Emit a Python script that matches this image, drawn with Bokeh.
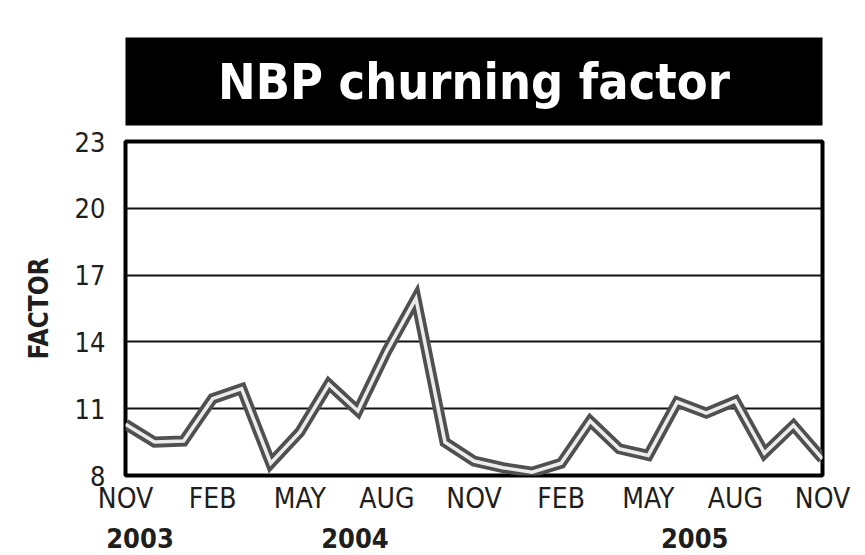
from bokeh.plotting import figure
from bokeh.layouts import column
from bokeh.models import FixedTicker, LinearAxis, Range1d
from bokeh.core.properties import value
from bokeh.embed import file_html
from bokeh.resources import INLINE

# ---- data ----
title_text = "NBP churning factor"
y_axis_title = "FACTOR"
months = ["NOV", "DEC", "JAN", "FEB", "MAR", "APR", "MAY", "JUN", "JUL", "AUG", "SEP", "OCT",
          "NOV", "DEC", "JAN", "FEB", "MAR", "APR", "MAY", "JUN", "JUL", "AUG", "SEP", "OCT", "NOV"]
factor = [10.3, 9.5, 9.55, 11.45, 11.9, 8.55, 9.95, 12.1, 10.9, 13.6, 15.95, 9.5,
          8.65, 8.35, 8.15, 8.55, 10.45, 9.2, 8.9, 11.3, 10.8, 11.35, 9.0, 10.25, 8.75]
years = ["2003", "2004", "2005"]
y_ticks = [8, 11, 14, 17, 20, 23]

FONT = "DejaVu Sans Condensed"
TXT = "#1e1e1e"
idx = list(range(len(factor)))

FW = 697
LB = 125
RB = 40

# ---- title block ----
tf = figure(frame_width=FW, frame_height=88, min_border_left=LB, min_border_right=RB,
            min_border_top=37, min_border_bottom=1, x_range=Range1d(0, 1), y_range=Range1d(0, 1),
            toolbar_location=None, output_backend="svg")
tf.axis.visible = False
tf.grid.visible = False
tf.background_fill_color = "black"
tf.outline_line_color = None
tf.text(x=[0.5], y=[0.5], text=[title_text], text_color="white", text_font=value(FONT),
        text_font_style="bold", text_font_size="50px", text_align="center",
        text_baseline="middle")

# ---- main chart ----
p = figure(frame_width=FW, frame_height=334, min_border_left=LB, min_border_right=RB,
           min_border_top=15, min_border_bottom=79,
           x_range=Range1d(0, len(factor) - 1), y_range=Range1d(8, 23),
           toolbar_location=None, output_backend="svg")
p.outline_line_color = "black"
p.outline_line_width = 4
p.background_fill_color = "white"
p.xgrid.visible = False
p.ygrid.ticker = FixedTicker(ticks=y_ticks)
p.ygrid.grid_line_color = "#111111"
p.ygrid.grid_line_width = 2

p.yaxis.ticker = FixedTicker(ticks=y_ticks)
p.yaxis.axis_line_color = None
p.yaxis.major_tick_line_color = None
p.yaxis.minor_tick_line_color = None
p.yaxis.major_label_text_font = FONT
p.yaxis.major_label_text_font_size = "27px"
p.yaxis.major_label_text_color = TXT
p.yaxis.major_label_standoff = 14
p.yaxis.axis_label = y_axis_title
p.yaxis.axis_label_text_font = FONT
p.yaxis.axis_label_text_font_style = "bold"
p.yaxis.axis_label_text_font_size = "26px"
p.yaxis.axis_label_text_color = TXT
p.yaxis.axis_label_standoff = 18

month_ticks = idx[::3]
p.xaxis.ticker = FixedTicker(ticks=month_ticks)
p.xaxis.major_label_overrides = {i: months[i] for i in month_ticks}
p.xaxis.axis_line_color = None
p.xaxis.major_tick_line_color = None
p.xaxis.minor_tick_line_color = None
p.xaxis.major_label_text_font = FONT
p.xaxis.major_label_text_font_size = "28px"
p.xaxis.major_label_text_color = TXT
p.xaxis.major_label_standoff = 0

year_pos = [0.5, 7.9, 19.6]
yax = LinearAxis(ticker=FixedTicker(ticks=year_pos),
                 major_label_overrides={year_pos[i]: years[i] for i in range(len(years))})
yax.axis_line_color = None
yax.major_tick_line_color = None
yax.minor_tick_line_color = None
yax.major_label_text_font = FONT
yax.major_label_text_font_style = "bold"
yax.major_label_text_font_size = "27px"
yax.major_label_text_color = TXT
yax.major_label_standoff = 4
p.add_layout(yax, "below")

p.line(idx, factor, line_color="#505050", line_width=11, line_join="miter")
p.line(idx, factor, line_color="#ececec", line_width=3.5, line_join="miter")

layout = column(tf, p, spacing=0)
open("out.html", "w").write(file_html(layout, INLINE))
